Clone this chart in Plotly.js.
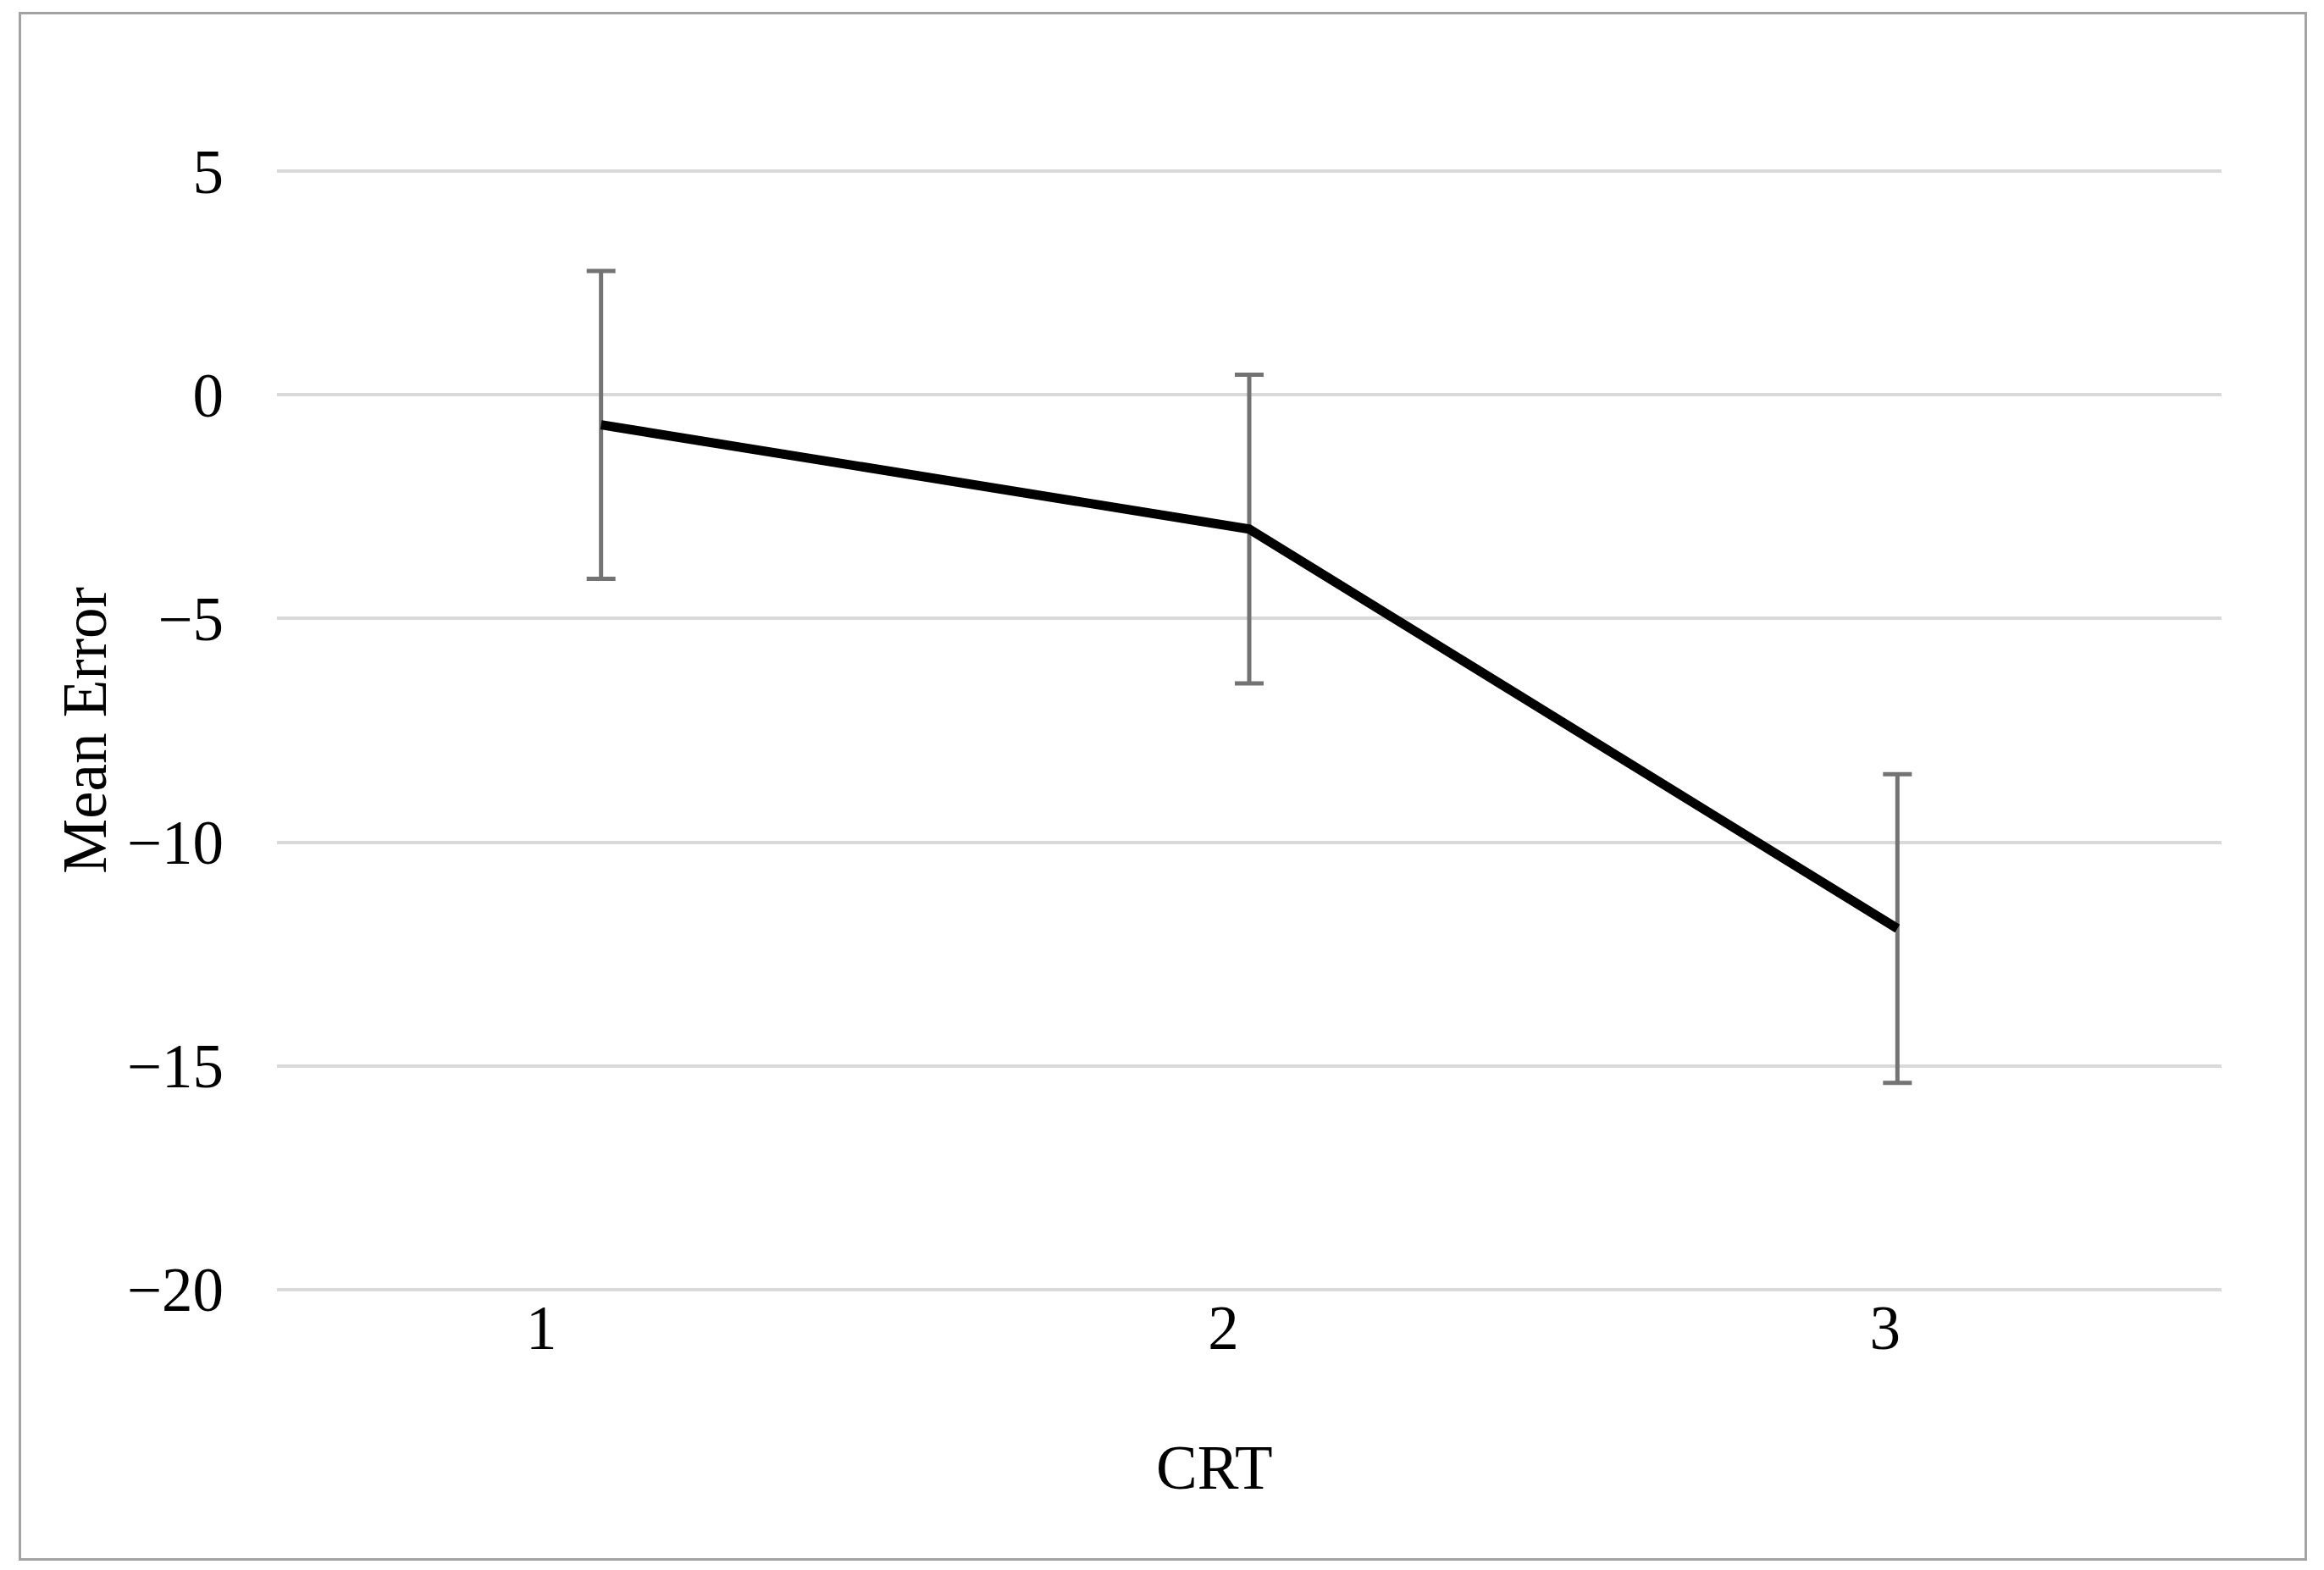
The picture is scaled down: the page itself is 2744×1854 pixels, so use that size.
<!DOCTYPE html>
<html>
<head>
<meta charset="utf-8">
<script src="https://cdn.plot.ly/plotly-3.0.1.min.js"></script>
<style>
  html, body { margin: 0; padding: 0; background: #ffffff; }
  #wrap { position: relative; width: 2744px; height: 1854px; }
  #frame { position: absolute; left: 22px; top: 14px; width: 2696px; height: 1823px;
           border: 3px solid #a3a3a3; box-sizing: content-box; pointer-events: none; }
  #chart { position: absolute; left: 0; top: 0; width: 2744px; height: 1854px; }
</style>
</head>
<body>
<div id="wrap">
  <div id="chart"></div>
  <div id="frame"></div>
</div>
<script>
// ---- data ----
const categories = [1, 2, 3];
const tickLabels = ["1", "2", "3"];
const meanError = [-0.67, -3.0, -11.93];
const errorHalfWidth = [3.44, 3.45, 3.45];
const yTicks = [5, 0, -5, -10, -15, -20];
const xTitle = "CRT";
const yTitle = "Mean Error";

// ---- style (label placement offset as in the original figure) ----
const labelShift = [-0.092, -0.04, -0.019];
const fontFamily = "'Liberation Serif', 'Times New Roman', serif";

const trace = {
  x: categories,
  y: meanError,
  type: 'scatter',
  mode: 'lines',
  line: { color: '#000000', width: 11 },
  error_y: {
    type: 'data',
    array: errorHalfWidth,
    visible: true,
    color: '#737373',
    thickness: 5,
    width: 17
  },
  hoverinfo: 'skip',
  showlegend: false
};

const layout = {
  width: 2744,
  height: 1854,
  margin: { l: 327, r: 121, t: 200, b: 329, pad: 0 },
  paper_bgcolor: 'rgba(0,0,0,0)',
  plot_bgcolor: '#ffffff',
  font: { family: fontFamily, size: 73, color: '#000000' },
  xaxis: {
    range: [0.5, 3.5],
    tickmode: 'array',
    tickvals: categories.map((c, i) => c + labelShift[i]),
    ticktext: tickLabels,
    showgrid: false,
    zeroline: false,
    showline: false,
    ticks: '',
    ticklabelstandoff: -6,
    tickfont: { family: fontFamily, size: 73, color: '#000000' },
    automargin: false,
    fixedrange: true
  },
  yaxis: {
    range: [-20.04, 5.04],
    tickmode: 'array',
    tickvals: yTicks,
    showgrid: true,
    gridcolor: '#d9d9d9',
    gridwidth: 4,
    zeroline: false,
    showline: false,
    ticks: '',
    ticklabelstandoff: 62,
    tickfont: { family: fontFamily, size: 73, color: '#000000' },
    title: { text: yTitle, font: { family: fontFamily, size: 73, color: '#000000' }, standoff: 0 },
    automargin: false,
    fixedrange: true
  },
  annotations: [{
    text: xTitle,
    xref: 'paper', yref: 'paper',
    x: 0.482, y: -0.157,
    xanchor: 'center', yanchor: 'middle',
    showarrow: false,
    font: { family: fontFamily, size: 73, color: '#000000' }
  }]
};

Plotly.newPlot('chart', [trace], layout, { staticPlot: true, displayModeBar: false });
</script>
</body>
</html>
